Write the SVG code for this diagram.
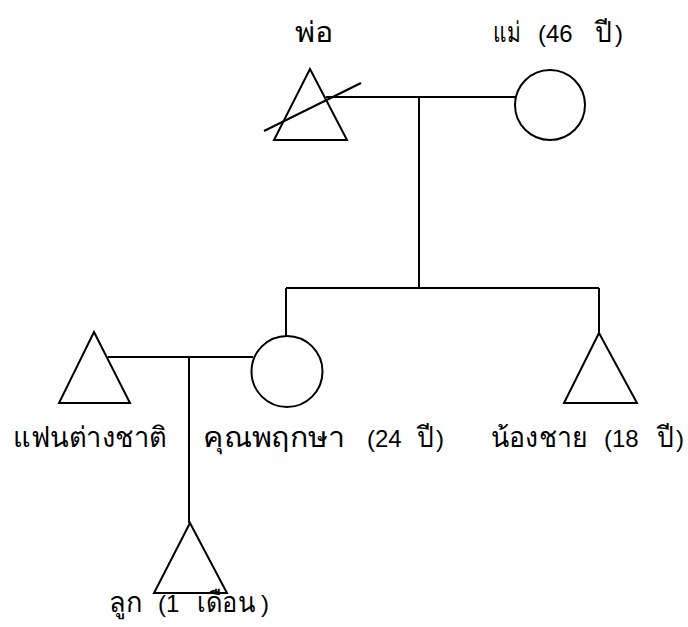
<svg xmlns="http://www.w3.org/2000/svg" width="688" height="627" viewBox="0 0 688 627">
<style>
.s{fill:none;stroke:#000;stroke-width:2}
.n{fill:#fff;stroke:#000;stroke-width:2}
.t{font-family:"Liberation Sans","Noto Sans",sans-serif;font-size:24px;fill:#000}
.th{font-size:28px}
</style>
<rect width="688" height="627" fill="#fff"/>
<g id="connectors" class="s">
<line x1="326" y1="97" x2="515" y2="97"/>
<line x1="419" y1="97" x2="419" y2="288"/>
<line x1="286" y1="288" x2="599" y2="288"/>
<line x1="286" y1="288" x2="286" y2="336"/>
<line x1="599" y1="288" x2="599" y2="333"/>
<line x1="108" y1="357" x2="253" y2="357"/>
<line x1="189" y1="357" x2="189" y2="523"/>
</g>
<g id="father">
<polygon class="n" points="310,69 347,140 274,140"/>
<line class="s" x1="264" y1="131" x2="361" y2="83"/>
<text class="t th" x="295" y="42" textLength="38" lengthAdjust="spacingAndGlyphs">พ่อ</text>
</g>
<g id="mother">
<circle class="n" cx="550" cy="105" r="35"/>
<text class="t th" x="493" y="42" textLength="27" lengthAdjust="spacingAndGlyphs">แม่</text>
<text class="t" x="538" y="42">(46</text>
<text class="t th" x="595" y="42" textLength="17" lengthAdjust="spacingAndGlyphs">ปี</text>
<text class="t" x="615" y="42">)</text>
</g>
<g id="partner">
<polygon class="n" points="94,332 130,403 59,403"/>
<text class="t th" x="13" y="447" textLength="154" lengthAdjust="spacingAndGlyphs">แฟนต่างชาติ</text>
</g>
<g id="pruksa">
<circle class="n" cx="287" cy="371.5" r="35.5"/>
<text class="t th" x="203" y="447" textLength="142" lengthAdjust="spacingAndGlyphs">คุณพฤกษา</text>
<text class="t" x="367" y="447">(24</text>
<text class="t th" x="417" y="447" textLength="17" lengthAdjust="spacingAndGlyphs">ปี</text>
<text class="t" x="436" y="447">)</text>
</g>
<g id="brother">
<polygon class="n" points="599,333 637,403 564,403"/>
<text class="t th" x="491" y="447" textLength="96" lengthAdjust="spacingAndGlyphs">น้องชาย</text>
<text class="t" x="604" y="447">(18</text>
<text class="t th" x="657" y="447" textLength="17" lengthAdjust="spacingAndGlyphs">ปี</text>
<text class="t" x="676" y="447">)</text>
</g>
<g id="child">
<polygon class="n" points="190,523 227,593 154,593"/>
<text class="t th" x="109" y="612" textLength="33" lengthAdjust="spacingAndGlyphs">ลูก</text>
<text class="t" x="158" y="612">(1</text>
<text class="t th" x="197" y="612" textLength="58" lengthAdjust="spacingAndGlyphs">เดือน</text>
<text class="t" x="261" y="612">)</text>
</g>
</svg>
